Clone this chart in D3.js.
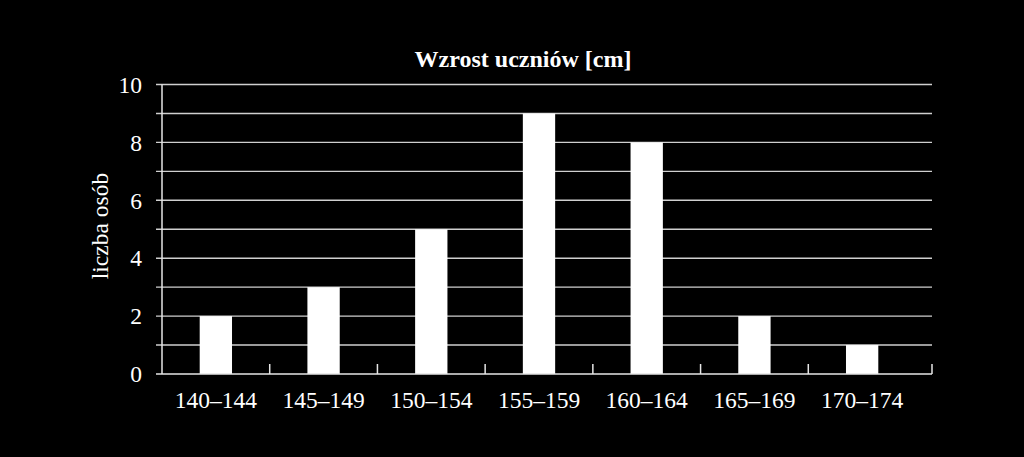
<!DOCTYPE html>
<html>
<head>
<meta charset="utf-8">
<script src="https://cdn.jsdelivr.net/npm/d3@7"></script>
<style>
  html, body { margin: 0; padding: 0; background: #000; }
  svg { display: block; }
  text { font-family: "Liberation Serif", "Times New Roman", serif; fill: #fff; }
</style>
</head>
<body>
<svg id="chart" width="1024" height="457"></svg>
<script>
const categories = ["140–144", "145–149", "150–154", "155–159", "160–164", "165–169", "170–174"];
const values = [2, 3, 5, 9, 8, 2, 1];
const yTickLabels = [0, 2, 4, 6, 8, 10];
const gridValues = [1, 2, 3, 4, 5, 6, 7, 8, 9, 10];
const title = "Wzrost uczniów [cm]";
const yTitle = "liczba osób";

(function () {
const svg = d3.select("#chart");
svg.append("rect").attr("width", 1024).attr("height", 457).attr("fill", "#000");

const pLeft = 162, pBottom = 374, pTop = 84.5, plotRight = 932, bandRight = 916;

const x = d3.scaleBand().domain(categories).range([pLeft, bandRight])
  .paddingInner(0.7).paddingOuter(0.35);
const y = d3.scaleLinear().domain([0, 10]).range([pBottom, pTop]);

// gridlines
svg.append("g").selectAll("line").data(gridValues).join("line")
  .attr("x1", pLeft - 6).attr("x2", plotRight)
  .attr("y1", d => y(d)).attr("y2", d => y(d))
  .attr("stroke", "#cfcfcf").attr("stroke-width", 1.4);

// bars
svg.append("g").selectAll("rect").data(values).join("rect")
  .attr("x", (d, i) => x(categories[i]))
  .attr("width", x.bandwidth())
  .attr("y", d => y(d))
  .attr("height", d => y(0) - y(d))
  .attr("fill", "#fff");

// y axis line
svg.append("line").attr("x1", pLeft).attr("x2", pLeft).attr("y1", pTop).attr("y2", pBottom)
  .attr("stroke", "#e6e6e6").attr("stroke-width", 1.5);
svg.append("line").attr("x1", pLeft - 6).attr("x2", pLeft).attr("y1", pBottom).attr("y2", pBottom)
  .attr("stroke", "#e6e6e6").attr("stroke-width", 1.5);
// x axis line
svg.append("line").attr("x1", pLeft).attr("x2", plotRight).attr("y1", pBottom).attr("y2", pBottom)
  .attr("stroke", "#e6e6e6").attr("stroke-width", 1.5);

// x boundary ticks
const boundaries = d3.range(1, categories.length).map(i => x.range()[0] + i * x.step());
boundaries.push(plotRight);
svg.append("g").selectAll("line").data(boundaries).join("line")
  .attr("x1", d => d).attr("x2", d => d)
  .attr("y1", pBottom).attr("y2", pBottom - 10)
  .attr("stroke", "#e6e6e6").attr("stroke-width", 1.5);

// y tick labels
svg.append("g").selectAll("text").data(yTickLabels).join("text")
  .attr("x", 142).attr("y", d => y(d)).attr("dy", "0.35em")
  .attr("text-anchor", "end").attr("font-size", 23.5).text(d => d);

// x tick labels
svg.append("g").selectAll("text").data(categories).join("text")
  .attr("x", d => x(d) + x.bandwidth() / 2).attr("y", 408)
  .attr("text-anchor", "middle").attr("font-size", 23.5).text(d => d);

// title
svg.append("text").attr("x", 523).attr("y", 67).attr("text-anchor", "middle")
  .attr("font-size", 24).attr("font-weight", "bold").text(title);

// y title
svg.append("text").attr("transform", "translate(108,226) rotate(-90)")
  .attr("text-anchor", "middle").attr("font-size", 23.5).text(yTitle);
})();
</script>
</body>
</html>
